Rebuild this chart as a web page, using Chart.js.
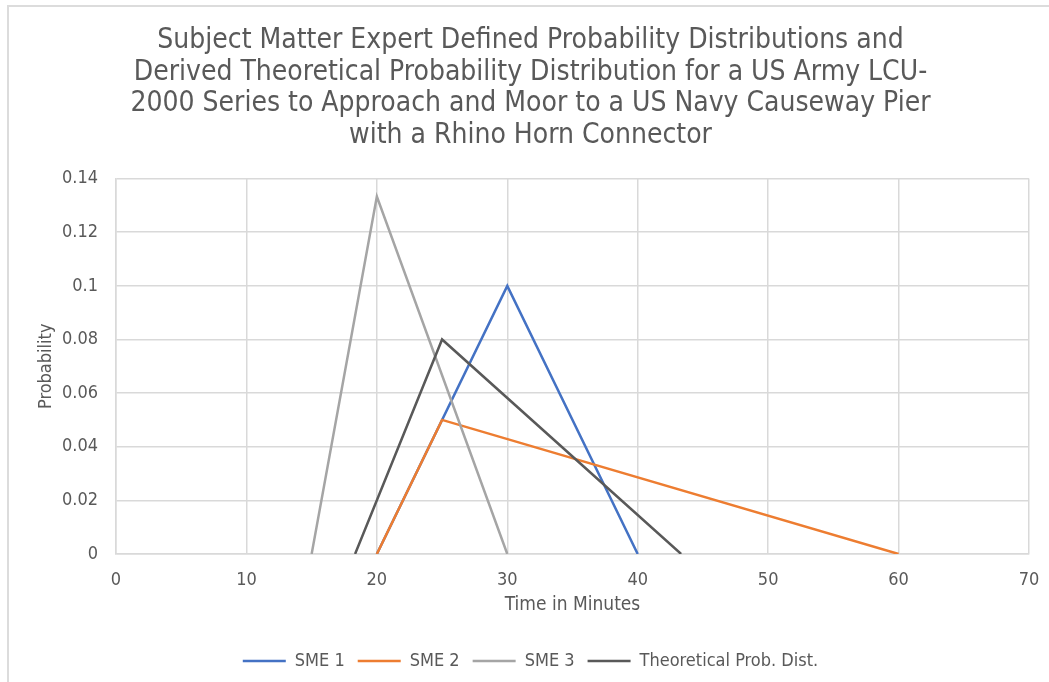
<!DOCTYPE html>
<html>
<head>
<meta charset="utf-8">
<title>LCU-2000 Approach and Moor Time Distributions</title>
<script src="https://cdn.jsdelivr.net/npm/chart.js@4.4.1/dist/chart.umd.min.js"></script>
<style>
    html, body { margin: 0; padding: 0; background: #fff; }
    #frame {
        position: absolute; left: 0; top: 0;
        width: 1049px; height: 682px;
    }
    #frame::before {
        content: ''; position: absolute; left: 7px; top: 5px; right: 0; bottom: 0;
        border-top: 2px solid #dcdcdc; border-left: 2px solid #dcdcdc;
        pointer-events: none;
    }
    canvas { display: block; }
</style>
</head>
<body>
<div id="frame">
    <canvas id="distChart" width="1049" height="682"></canvas>
</div>
<script>
// Triangular distributions: time (minutes) and probability at each corner
const sme1Time = [20, 30, 40];
const sme1Prob = [0, 0.1, 0];
const sme2Time = [20, 25, 60];
const sme2Prob = [0, 0.05, 0];
const sme3Time = [15, 20, 30];
const sme3Prob = [0, 0.1333, 0];
const theoTime = [18.33, 25, 43.33];
const theoProb = [0, 0.08, 0];

const seriesNames = ['SME 1', 'SME 2', 'SME 3', 'Theoretical Prob. Dist.'];
const seriesColors = ['#4472c4', '#ed7d31', '#a5a5a5', '#595959'];

const titleLines = [
    'Subject Matter Expert Defined Probability Distributions and',
    'Derived Theoretical Probability Distribution for a US Army LCU-',
    '2000 Series to Approach and Moor to a US Navy Causeway Pier',
    'with a Rhino Horn Connector'
];

const FONT = '"DejaVu Sans Condensed", "Liberation Sans Narrow", "DejaVu Sans", sans-serif';
const TEXT = '#595959';
const GRID = '#d9d9d9';

function toPoints(xs, ys) {
    return xs.map((x, i) => ({ x: x, y: ys[i] }));
}

const series = [
    toPoints(sme1Time, sme1Prob),
    toPoints(sme2Time, sme2Prob),
    toPoints(sme3Time, sme3Prob),
    toPoints(theoTime, theoProb)
];

const datasets = series.map((pts, i) => ({
    label: seriesNames[i],
    data: pts,
    showLine: true,
    borderColor: seriesColors[i],
    backgroundColor: seriesColors[i],
    borderWidth: 2.5,
    pointRadius: 0,
    tension: 0,
    // later series sit on top
    order: seriesNames.length - i
}));

new Chart(document.getElementById('distChart'), {
    type: 'scatter',
    data: { datasets: datasets },
    options: {
        responsive: false,
        animation: false,
        layout: { padding: { left: 32, right: 20, top: 0, bottom: 2 } },
        plugins: {
            tooltip: { enabled: false },
            title: {
                display: true,
                text: titleLines,
                color: TEXT,
                font: { family: FONT, size: 28, weight: 'normal', lineHeight: 1.13 },
                padding: { top: 25, bottom: 27 }
            },
            legend: {
                position: 'bottom',
                labels: {
                    color: TEXT,
                    font: { family: FONT, size: 18 },
                    usePointStyle: true,
                    pointStyle: 'line',
                    pointStyleWidth: 43,
                    boxHeight: 3,
                    padding: 13,
                    sort: (a, b) => a.datasetIndex - b.datasetIndex
                }
            }
        },
        scales: {
            x: {
                type: 'linear',
                min: 0,
                max: 70,
                ticks: {
                    stepSize: 10,
                    color: TEXT,
                    padding: 16,
                    font: { family: FONT, size: 18 }
                },
                grid: { color: GRID, lineWidth: 1.5, drawTicks: false },
                border: { color: GRID, width: 1.5 },
                title: {
                    display: true,
                    text: 'Time in Minutes',
                    color: TEXT,
                    font: { family: FONT, size: 19 },
                    padding: { top: 0, bottom: 23 }
                },
                afterFit: scale => {
                    scale.height = 85;
                    // let the layout padding decide the right edge, not the "70" label
                    scale.paddingRight = 0;
                }
            },
            y: {
                min: 0,
                max: 0.14,
                ticks: {
                    stepSize: 0.02,
                    color: TEXT,
                    padding: 18,
                    font: { family: FONT, size: 18 },
                    callback: v => String(Number(v.toFixed(2)))
                },
                grid: { color: GRID, lineWidth: 1.5, drawTicks: false },
                border: { color: GRID, width: 1.5 },
                title: {
                    display: true,
                    text: 'Probability',
                    color: TEXT,
                    font: { family: FONT, size: 18 },
                    padding: { bottom: 4 }
                },
                afterFit: scale => { scale.width = 84; }
            }
        }
    }
});
</script>
</body>
</html>
